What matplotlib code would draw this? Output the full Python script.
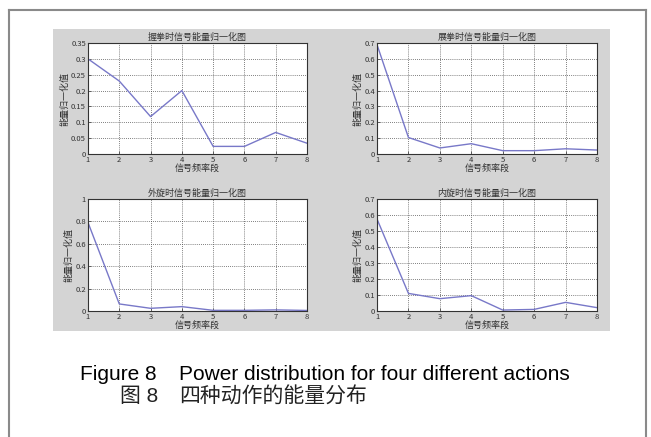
import matplotlib
matplotlib.use("Agg")
import matplotlib.pyplot as plt
from matplotlib.lines import Line2D
from matplotlib.patches import Rectangle

plt.rcParams['font.family'] = ['Noto Sans CJK SC', 'DejaVu Sans']

# --- data ---
bands = [1, 2, 3, 4, 5, 6, 7, 8]
grip = [0.30, 0.23, 0.118, 0.20, 0.024, 0.024, 0.068, 0.034]
spread = [0.69, 0.104, 0.038, 0.065, 0.021, 0.021, 0.033, 0.025]
outward = [0.79, 0.063, 0.024, 0.039, 0.006, 0.006, 0.010, 0.005]
inward = [0.575, 0.11, 0.077, 0.096, 0.006, 0.010, 0.054, 0.021]

titles = ["握拳时信号能量归一化图", "展拳时信号能量归一化图",
          "外旋时信号能量归一化图", "内旋时信号能量归一化图"]
ylims = [0.35, 0.7, 1.0, 0.7]
yticks = [
    [0, 0.05, 0.1, 0.15, 0.2, 0.25, 0.3, 0.35],
    [0, 0.1, 0.2, 0.3, 0.4, 0.5, 0.6, 0.7],
    [0, 0.2, 0.4, 0.6, 0.8, 1.0],
    [0, 0.1, 0.2, 0.3, 0.4, 0.5, 0.6, 0.7],
]
series = [grip, spread, outward, inward]

W, H = 651, 437
fig = plt.figure(figsize=(W / 100, H / 100), dpi=100)
fig.patch.set_facecolor('white')

# outer frame
frame_col = '#8a8a8a'
fig.add_artist(Line2D([9 / W, 646 / W], [1 - 10 / H, 1 - 10 / H], color=frame_col, lw=1.5))
fig.add_artist(Line2D([9 / W, 9 / W], [0, 1 - 10 / H], color=frame_col, lw=1.5))
fig.add_artist(Line2D([646 / W, 646 / W], [0, 1 - 10 / H], color=frame_col, lw=1.5))

# grey figure panel behind the plots
fig.add_artist(Rectangle((53 / W, 1 - 331 / H), (610 - 53) / W, (331 - 29) / H,
                         transform=fig.transFigure, facecolor='#d4d4d4',
                         edgecolor='none', zorder=0))

boxes = [(88, 43, 307, 154), (377, 43, 597, 154),
         (88, 199, 307, 311), (377, 199, 597, 311)]

for box, vals, title, ymax, yt in zip(boxes, series, titles, ylims, yticks):
    x0, y0, x1, y1 = box
    ax = fig.add_axes([x0 / W, 1 - y1 / H, (x1 - x0) / W, (y1 - y0) / H])
    ax.plot(bands, vals, color='#7878c8', lw=1.0)
    ax.set_xlim(1, 8)
    ax.set_ylim(0, ymax)
    ax.set_xticks(bands)
    ax.set_yticks(yt)
    ax.set_yticklabels([f"{v:g}" for v in yt])
    ax.grid(True, linestyle=(0, (1, 1.5)), color='#555555', lw=0.6)
    ax.tick_params(labelsize=5.5, colors='#333333', length=2, width=0.5, direction='in', pad=1.5)
    for s in ax.spines.values():
        s.set_color('#333333')
        s.set_linewidth(0.8)
    ax.set_title(title, fontsize=6.5, color='#333333', pad=2)
    ax.set_xlabel("信号频率段", fontsize=6.5, color='#333333', labelpad=0)
    ax.set_ylabel("能量归一化值", fontsize=6.5, color='#333333', labelpad=1)

en = ['Liberation Sans', 'DejaVu Sans']
fig.text(80 / W, 1 - 375 / H, "Figure 8", family=en, fontsize=15, va='center', ha='left')
fig.text(179 / W, 1 - 375 / H, "Power distribution for four different actions",
         family=en, fontsize=15, va='center', ha='left')
fig.text(120 / W, 1 - 397 / H, "图 8", family=['Liberation Sans', 'Noto Sans CJK SC'],
         fontsize=15, va='center', ha='left', color='#222222')
fig.text(179 / W, 1 - 397 / H, "四种动作的能量分布", family=['Noto Sans CJK SC'],
         fontsize=15, va='center', ha='left', color='#222222')

fig.savefig("out.png", dpi=100)
